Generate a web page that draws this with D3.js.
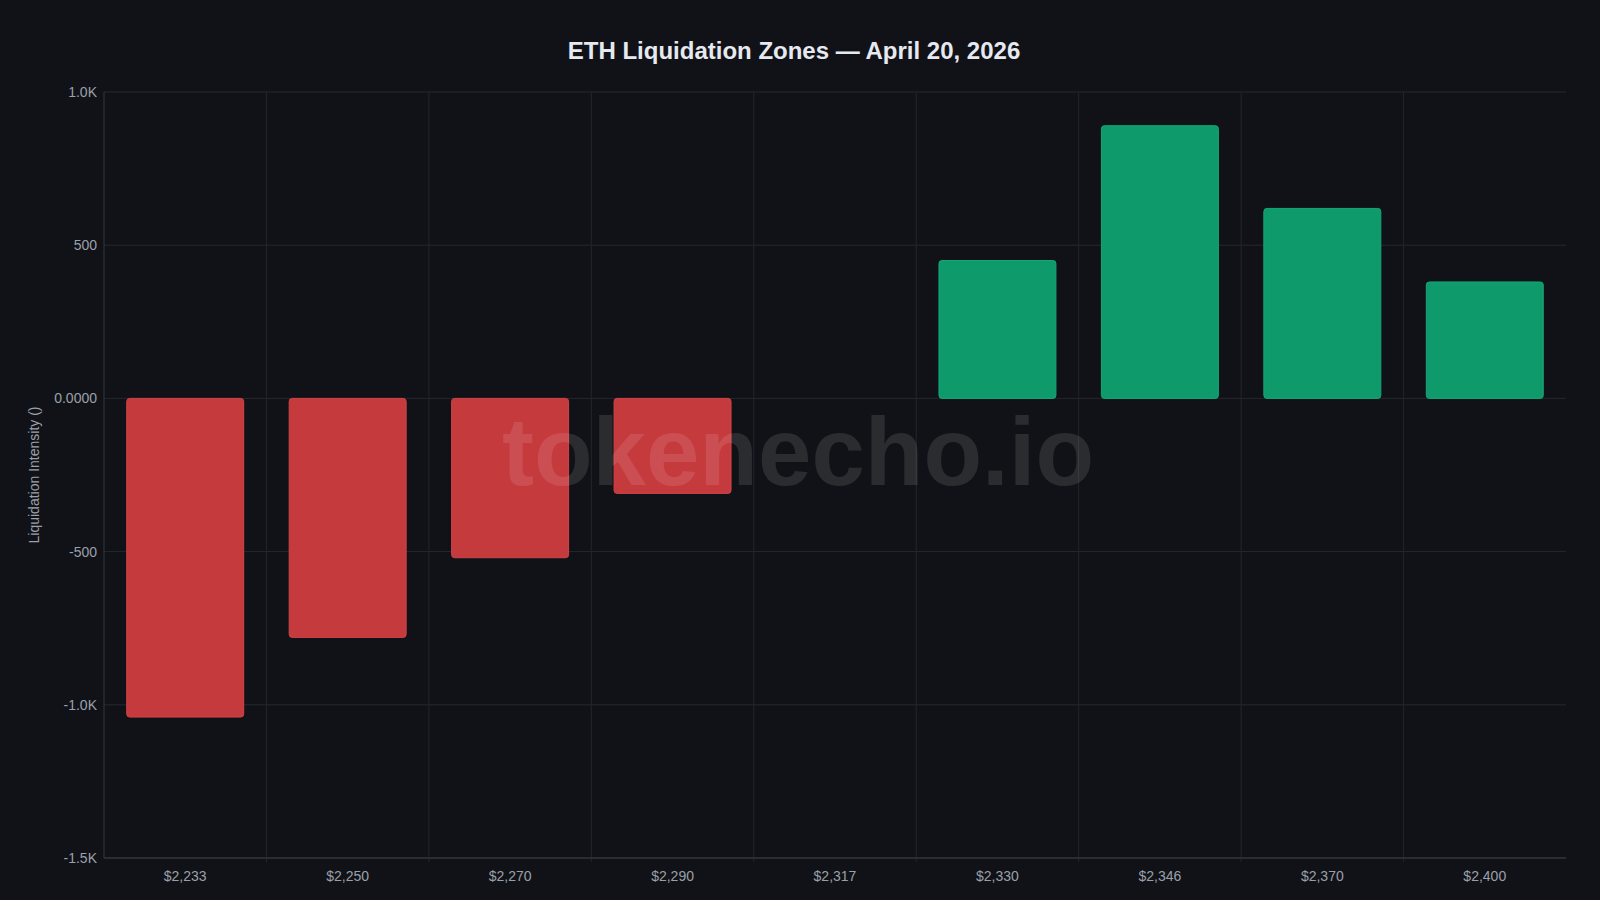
<!DOCTYPE html>
<html><head><meta charset="utf-8">
<script src="https://cdn.jsdelivr.net/npm/d3@7"></script>
<style>body{margin:0;background:#111217;}svg{display:block;font-family:"Helvetica Neue",Arial,"Liberation Sans",sans-serif;}</style>
</head><body><svg width="1600" height="900"></svg>
<script>
var prices = ["$2,233","$2,250","$2,270","$2,290","$2,317","$2,330","$2,346","$2,370","$2,400"];
var intensity = [-1040,-780,-520,-310,0,450,890,620,380];
var yTicks = [-1500,-1000,-500,0,500,1000];
var yTickLabels = ["-1.5K","-1.0K","-500","0.0000","500","1.0K"];

var svg = d3.select("svg");
var m = {left:104, right:34, top:92, bottom:42};
var width = 1600, height = 900;

var x = d3.scaleBand().domain(prices).range([m.left, width - m.right]).paddingInner(0.28).paddingOuter(0.14);
var y = d3.scaleLinear().domain([-1500,1000]).range([height - m.bottom, m.top]);
var gap = (x.step() - x.bandwidth()) / 2;

svg.append("rect").attr("width",width).attr("height",height).attr("fill","#111217");

// grid
svg.append("g").selectAll("line").data(yTicks).join("line")
  .attr("x1",m.left).attr("x2",width-m.right)
  .attr("y1",d=>y(d)).attr("y2",d=>y(d))
  .attr("stroke","#262830").attr("stroke-width",1);
svg.append("g").selectAll("line").data(prices.slice(1)).join("line")
  .attr("x1",d=>x(d)-gap).attr("x2",d=>x(d)-gap)
  .attr("y1",m.top).attr("y2",height-m.bottom+4)
  .attr("stroke","#23252c");

// axes lines
svg.append("line").attr("x1",m.left).attr("x2",m.left).attr("y1",m.top).attr("y2",height-m.bottom).attr("stroke","#33363e");
svg.append("line").attr("x1",m.left).attr("x2",width-m.right).attr("y1",height-m.bottom).attr("y2",height-m.bottom).attr("stroke","#3a3d45");

// bars
svg.append("g").selectAll("rect").data(prices.map((p,i)=>({p:p,v:intensity[i]}))).join("rect")
  .attr("x",d=>x(d.p)).attr("width",x.bandwidth())
  .attr("y",d=>Math.min(y(d.v),y(0))).attr("height",d=>Math.abs(y(d.v)-y(0)))
  .attr("rx",3)
  .attr("fill",d=>d.v<0?"#c53a3d":"#0f9a6c")
  .attr("stroke",d=>d.v<0?"#d04448":"#14a877").attr("stroke-width",1);

// y labels
svg.append("g").selectAll("text").data(yTicks).join("text")
  .attr("x",m.left-7).attr("y",d=>y(d)).attr("dy","0.35em").attr("text-anchor","end")
  .attr("fill","#9aa0ab").attr("font-size",14).text((d,i)=>yTickLabels[i]);

// x labels
svg.append("g").selectAll("text").data(prices).join("text")
  .attr("x",d=>x(d)+x.bandwidth()/2).attr("y",height-m.bottom+23).attr("text-anchor","middle")
  .attr("fill","#9aa0ab").attr("font-size",14).text(d=>d);

svg.append("text").attr("transform","translate(39,"+y(-250)+") rotate(-90)")
  .attr("text-anchor","middle").attr("fill","#9aa0ab").attr("font-size",14).text("Liquidation Intensity ()");

svg.append("text").attr("x",width/2-6).attr("y",59).attr("text-anchor","middle")
  .attr("fill","#e6e9ef").attr("font-size",24).attr("font-weight","bold").text("ETH Liquidation Zones — April 20, 2026");

// watermark
svg.append("text").attr("x",798).attr("y",485).attr("text-anchor","middle")
  .attr("fill","#ffffff").attr("fill-opacity",0.11).attr("font-size",96).attr("font-weight","bold").text("tokenecho.io");
</script></body></html>
